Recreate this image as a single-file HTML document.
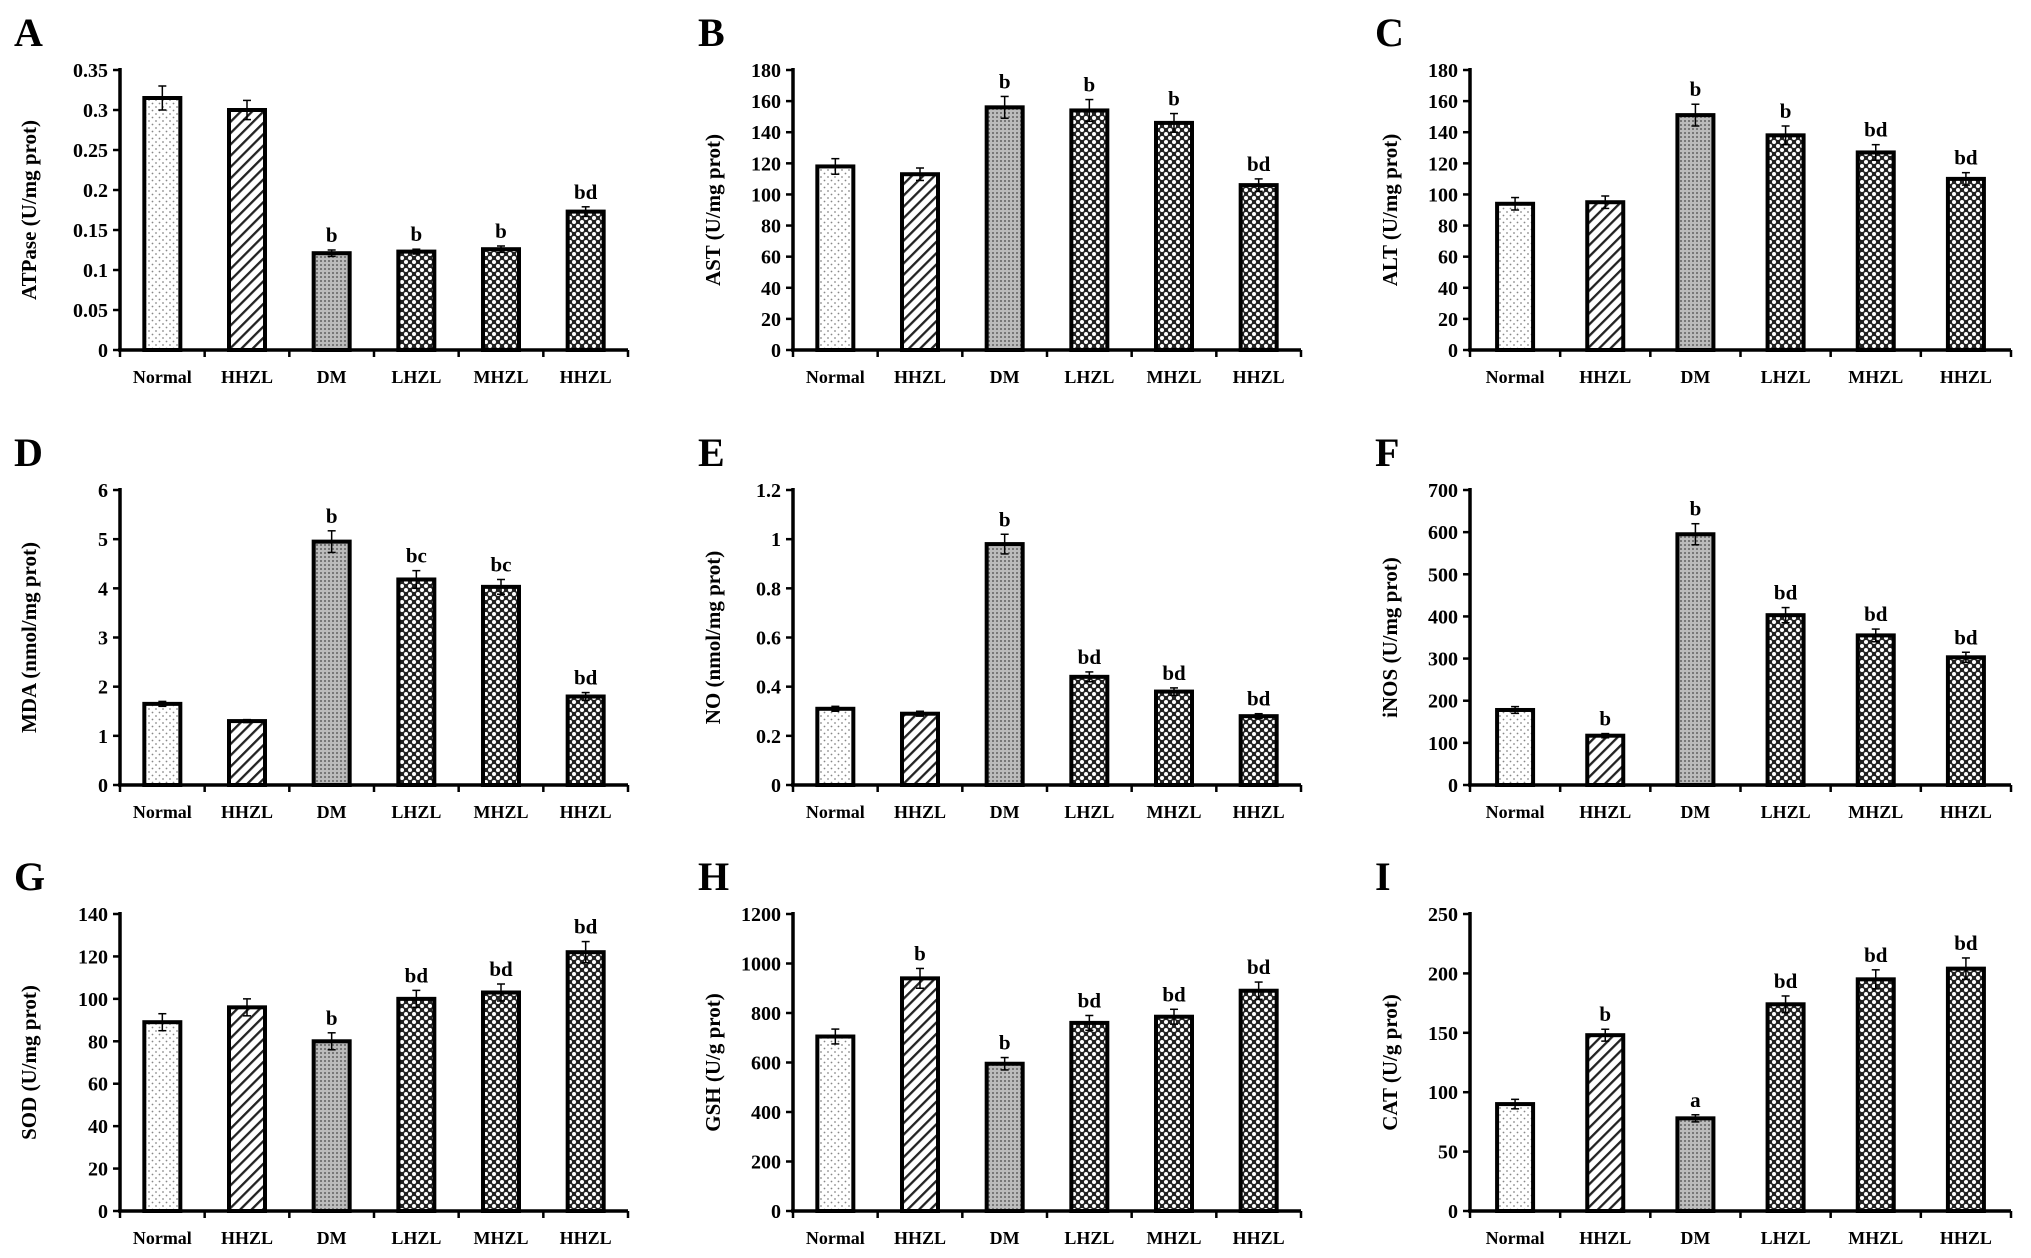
<!DOCTYPE html>
<html><head><meta charset="utf-8"><style>
html,body{margin:0;padding:0;background:#fff;}
svg{display:block;font-family:"Liberation Serif",serif;font-weight:bold;}
</style></head><body>
<svg id="fig" width="2031" height="1258" viewBox="0 0 2031 1258" xmlns="http://www.w3.org/2000/svg">
<defs>
<pattern id="pDots" width="7" height="7" patternUnits="userSpaceOnUse"><rect width="7" height="7" fill="#fff"/><circle cx="2" cy="2" r="0.9" fill="#888"/><circle cx="5.5" cy="5.5" r="0.9" fill="#888"/></pattern>
<pattern id="pDiag" width="8" height="8" patternUnits="userSpaceOnUse" patternTransform="rotate(45)"><rect width="8" height="8" fill="#fff"/><rect x="0" y="0" width="2.3" height="8" fill="#222"/></pattern>
<pattern id="pGray" width="4" height="4" patternUnits="userSpaceOnUse"><rect width="4" height="4" fill="#bbb"/><rect width="2" height="2" fill="#777"/></pattern>
<pattern id="pCheck" width="8" height="8" patternUnits="userSpaceOnUse"><rect width="8" height="8" fill="#222"/><circle cx="2" cy="2" r="2" fill="#fff"/><circle cx="6" cy="6" r="2" fill="#fff"/></pattern>
</defs>
<g id="root"></g>
</svg>
<script>
const categories = ["Normal","HHZL","DM","LHZL","MHZL","HHZL"];
const valsA = [0.315,0.3,0.121,0.123,0.126,0.173];
const errA = [0.015,0.012,0.004,0.003,0.004,0.006];
const sigA = ["","","b","b","b","bd"];
const valsB = [118,113,156,154,146,106];
const errB = [5,4,7,7,6,4];
const sigB = ["","","b","b","b","bd"];
const valsC = [94,95,151,138,127,110];
const errC = [4,4,7,6,5,4];
const sigC = ["","","b","b","bd","bd"];
const valsD = [1.65,1.3,4.95,4.18,4.03,1.8];
const errD = [0.05,0.03,0.22,0.18,0.15,0.08];
const sigD = ["","","b","bc","bc","bd"];
const valsE = [0.31,0.29,0.98,0.44,0.38,0.28];
const errE = [0.01,0.01,0.04,0.02,0.015,0.01];
const sigE = ["","","b","bd","bd","bd"];
const valsF = [178,117,595,403,355,303];
const errF = [8,5,25,18,15,12];
const sigF = ["","b","b","bd","bd","bd"];
const valsG = [89,96,80,100,103,122];
const errG = [4,4,4,4,4,5];
const sigG = ["","","b","bd","bd","bd"];
const valsH = [705,940,595,760,785,890];
const errH = [30,40,25,30,30,35];
const sigH = ["","b","b","bd","bd","bd"];
const valsI = [90,148,78,174,195,204];
const errI = [4,5,3,7,8,9];
const sigI = ["","b","a","bd","bd","bd"];
const ticksA = ["0","0.05","0.1","0.15","0.2","0.25","0.3","0.35"];
const ticksB = ["0","20","40","60","80","100","120","140","160","180"];
const ticksD = ["0","1","2","3","4","5","6"];
const ticksE = ["0","0.2","0.4","0.6","0.8","1","1.2"];
const ticksF = ["0","100","200","300","400","500","600","700"];
const ticksG = ["0","20","40","60","80","100","120","140"];
const ticksH = ["0","200","400","600","800","1000","1200"];
const ticksI = ["0","50","100","150","200","250"];

const NS="http://www.w3.org/2000/svg";
const root=document.getElementById('root');
function mk(tag,attrs,parent){const e=document.createElementNS(NS,tag);for(const k in attrs)e.setAttribute(k,attrs[k]);(parent||root).appendChild(e);return e;}
const fills=["url(#pDots)","url(#pDiag)","url(#pGray)","url(#pCheck)","url(#pCheck)","url(#pCheck)"];

const panels=[
 {L:"A",t:"ATPase  (U/mg prot)",v:valsA,e:errA,s:sigA,tk:ticksA,col:0,row:0},
 {L:"B",t:"AST (U/mg prot)",v:valsB,e:errB,s:sigB,tk:ticksB,col:1,row:0},
 {L:"C",t:"ALT (U/mg prot)",v:valsC,e:errC,s:sigC,tk:ticksB,col:2,row:0},
 {L:"D",t:"MDA (nmol/mg prot)",v:valsD,e:errD,s:sigD,tk:ticksD,col:0,row:1},
 {L:"E",t:"NO (nmol/mg prot)",v:valsE,e:errE,s:sigE,tk:ticksE,col:1,row:1},
 {L:"F",t:"iNOS (U/mg prot)",v:valsF,e:errF,s:sigF,tk:ticksF,col:2,row:1},
 {L:"G",t:"SOD (U/mg prot)",v:valsG,e:errG,s:sigG,tk:ticksG,col:0,row:2},
 {L:"H",t:"GSH (U/g prot)",v:valsH,e:errH,s:sigH,tk:ticksH,col:1,row:2},
 {L:"I",t:"CAT (U/g prot)",v:valsI,e:errI,s:sigI,tk:ticksI,col:2,row:2}
];
const colX=[120,793,1470], colEnd=[628,1301,2011], colL=[14,698,1375];
const rowTop=[70,490,914], rowZero=[350,785,1211];

panels.forEach(p=>{
 const g=mk('g',{});
 
 
 const x0=colX[p.col], x1=colEnd[p.col], yT=rowTop[p.row], y0=rowZero[p.row];
 const maxV=parseFloat(p.tk[p.tk.length-1]);
 const ys=v=>y0-(v/maxV)*(y0-yT);
 const band=(x1-x0)/categories.length;
 const xc=i=>x0+band*(i+0.5);
 const lt=mk('text',{x:colL[p.col],y:yT-24,'font-size':40},g);lt.textContent=p.L;
 
 p.tk.forEach(t=>{const y=ys(parseFloat(t));
  mk('line',{x1:x0-7,x2:x0,y1:y,y2:y,stroke:'#000','stroke-width':2.5},g);
  const tt=mk('text',{x:x0-12,y:y+7,'font-size':20,'text-anchor':'end'},g);tt.textContent=t;
  
 });
 p.v.forEach((v,i)=>{
  const bw=36, cx=xc(i), y=ys(v);
  const r=mk('rect',{x:cx-bw/2,y:y,width:bw,height:y0-y,fill:fills[i],stroke:'#000','stroke-width':4},g);
  
  const ey1=ys(v+p.e[i]), ey2=ys(v-p.e[i]);
  mk('line',{x1:cx,x2:cx,y1:ey1,y2:ey2,stroke:'#000','stroke-width':1.5},g);
  mk('line',{x1:cx-4,x2:cx+4,y1:ey1,y2:ey1,stroke:'#000','stroke-width':1.5},g);
  mk('line',{x1:cx-4,x2:cx+4,y1:ey2,y2:ey2,stroke:'#000','stroke-width':1.5},g);
  if(p.s[i]){const st=mk('text',{x:cx,y:ey1-8,'font-size':21,'text-anchor':'middle'},g);st.textContent=p.s[i];
   }
  const cl=mk('text',{x:cx,y:y0+33,'font-size':18,'text-anchor':'middle'},g);cl.textContent=categories[i];
  
 });
 for(let i=0;i<=categories.length;i++){const x=x0+band*i;mk('line',{x1:x,x2:x,y1:y0,y2:y0+7,stroke:'#000','stroke-width':2.5},g);}
 const ya=mk('line',{x1:x0,x2:x0,y1:yT-2,y2:y0,stroke:'#000','stroke-width':3.5},g);
 
 const xa=mk('line',{x1:x0-2,x2:x1,y1:y0,y2:y0,stroke:'#000','stroke-width':3.5},g);
 
 const tx=colL[p.col]+22, ty=(yT+y0)/2;
 const yt=mk('text',{x:tx,y:ty,'font-size':21,'text-anchor':'middle',transform:`rotate(-90 ${tx} ${ty})`},g);yt.textContent=p.t;
 
});
</script>
</body></html>
